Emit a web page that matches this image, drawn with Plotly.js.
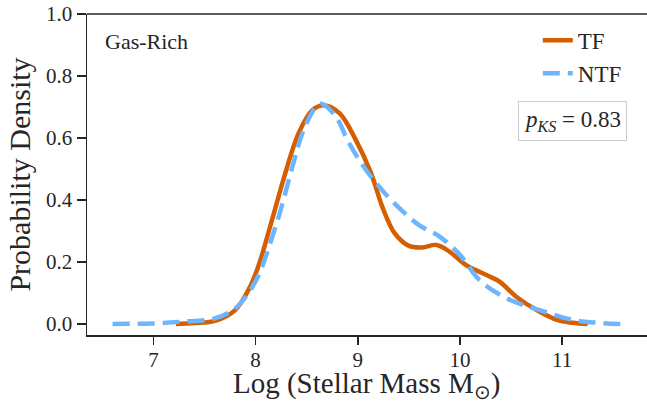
<!DOCTYPE html>
<html>
<head>
<meta charset="utf-8">
<script src="https://cdn.plot.ly/plotly-3.0.1.min.js"></script>
<style>html,body{margin:0;padding:0;background:#fff;overflow:hidden}</style>
</head>
<body>
<div id="chart" style="width:647px;height:404px"></div>
<script>
// TF (solid orange) KDE
const tfMass = [7.22, 7.4, 7.61, 7.8, 7.93, 8.02, 8.16, 8.29, 8.42, 8.555, 8.67, 8.82, 8.98, 9.13, 9.24, 9.36, 9.5, 9.63, 9.77, 9.9, 10.06, 10.26, 10.39, 10.55, 10.75, 10.95, 11.1, 11.25];
const tfDensity = [0.0, 0.003, 0.011, 0.045, 0.11, 0.18, 0.335, 0.486, 0.615, 0.69, 0.706, 0.68, 0.594, 0.486, 0.378, 0.293, 0.252, 0.247, 0.255, 0.233, 0.19, 0.158, 0.136, 0.088, 0.045, 0.013, 0.004, 0.0];
// NTF (dashed blue) KDE
const ntfMass = [6.6, 7.0, 7.28, 7.6, 7.8, 7.93, 8.03, 8.11, 8.245, 8.36, 8.47, 8.59, 8.65, 8.785, 8.915, 9.08, 9.21, 9.34, 9.6, 9.8, 10.0, 10.19, 10.455, 10.78, 11.11, 11.35, 11.6];
const ntfDensity = [0.0, 0.002, 0.0075, 0.018, 0.05, 0.1, 0.158, 0.228, 0.368, 0.507, 0.626, 0.70, 0.71, 0.669, 0.583, 0.497, 0.443, 0.395, 0.319, 0.282, 0.223, 0.142, 0.083, 0.045, 0.013, 0.004, 0.0];
const seriesNames = ["TF", "NTF"];
const xTicks = [7, 8, 9, 10, 11];
const yTicks = [0.0, 0.2, 0.4, 0.6, 0.8, 1.0];
const yTickLabels = ["0.0", "0.2", "0.4", "0.6", "0.8", "1.0"];
const panelLabel = "Gas-Rich";
const xTitle = "Log (Stellar Mass M<sub>⊙</sub>)";
const yTitle = "Probability Density";
const ksText = "<i>p</i><sub><i>KS</i></sub> = 0.83";

const FONT = "Liberation Serif, Times New Roman, serif";
const INK = "#262626";

const traces = [
  {x: tfMass, y: tfDensity, name: seriesNames[0], mode: "lines",
   line: {color: "#d55e00", width: 4.5, shape: "spline", smoothing: 1}},
  {x: ntfMass, y: ntfDensity, name: seriesNames[1], mode: "lines",
   line: {color: "#6cb6ff", width: 4.5, dash: "17px,8px", shape: "spline", smoothing: 1}}
];

const layout = {
  width: 647, height: 404,
  margin: {l: 87, r: 0, t: 14, b: 69},
  paper_bgcolor: "#fff", plot_bgcolor: "#fff",
  font: {family: FONT, color: INK, size: 21},
  showlegend: true,
  legend: {x: 0.805, y: 0.985, xanchor: "left", yanchor: "top",
           bgcolor: "rgba(0,0,0,0)", borderwidth: 0,
           font: {family: FONT, size: 23, color: INK}, tracegroupgap: 4},
  xaxis: {
    range: [6.35, 11.83], tickvals: xTicks, ticktext: xTicks.map(String),
    showgrid: false, zeroline: false, showline: true, linecolor: INK, linewidth: 1.5,
    mirror: false, ticks: "outside", ticklen: 8, tickwidth: 1.5, tickcolor: INK,
    ticklabelstandoff: -3,
    tickfont: {family: FONT, size: 21, color: INK}
  },
  yaxis: {
    range: [-0.0355, 1.0], tickvals: yTicks, ticktext: yTickLabels,
    showgrid: false, zeroline: false, showline: true, linecolor: INK, linewidth: 1.5,
    ticks: "outside", ticklen: 9, tickwidth: 1.5, tickcolor: INK,
    tickfont: {family: FONT, size: 21, color: INK},
    title: {text: yTitle, font: {family: FONT, size: 30, color: INK}, standoff: 6}
  },
  shapes: [
    {type: "line", xref: "paper", yref: "paper", x0: 0, x1: 1, y0: 1, y1: 1,
     line: {color: INK, width: 1.5}}
  ],
  annotations: [
    {xref: "paper", yref: "paper", x: 0.5, y: -0.215, xanchor: "center", yanchor: "bottom",
     text: xTitle, showarrow: false, borderpad: 0, font: {family: FONT, size: 29, color: INK}},
    {xref: "paper", yref: "paper", x: 0.028, y: 0.913, xanchor: "left", yanchor: "middle",
     text: panelLabel, showarrow: false, font: {family: FONT, size: 22, color: INK}},
    {xref: "paper", yref: "paper", x: 0.867, y: 0.667, xanchor: "center", yanchor: "middle",
     text: ksText, showarrow: false, font: {family: FONT, size: 23, color: INK},
     bordercolor: "#cccccc", borderwidth: 1, borderpad: 5, bgcolor: "#fff"}
  ]
};

Plotly.newPlot("chart", traces, layout, {displayModeBar: false, staticPlot: true});
</script>
</body>
</html>
